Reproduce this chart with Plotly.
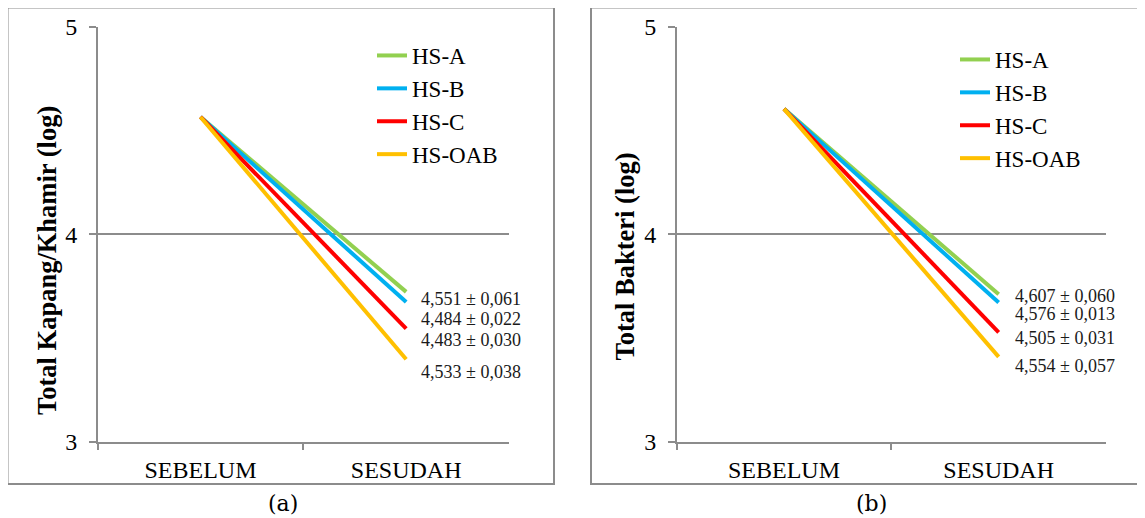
import plotly.graph_objects as go

# ---------------- data ----------------
categories = ["SEBELUM", "SESUDAH"]
series = ["HS-A", "HS-B", "HS-C", "HS-OAB"]
colors = ["#92D050", "#00B0F0", "#FF0000", "#FFC000"]

kapang_sebelum = [4.565, 4.565, 4.565, 4.565]
kapang_sesudah = [3.722, 3.673, 3.545, 3.397]
kapang_labels = ["4,551 ± 0,061", "4,484 ± 0,022", "4,483 ± 0,030", "4,533 ± 0,038"]

bakteri_sebelum = [4.604, 4.604, 4.604, 4.604]
bakteri_sesudah = [3.711, 3.671, 3.527, 3.409]
bakteri_labels = ["4,607 ± 0,060", "4,576 ± 0,013", "4,505 ± 0,031", "4,554 ± 0,057"]

y_ticks = [3, 4, 5]
y_titles = ["Total Kapang/Khamir (log)", "Total Bakteri (log)"]
captions = ["(a)", "(b)"]

# label positions (y in data units)
kapang_label_y = [3.687, 3.590, 3.488, 3.338]
bakteri_label_y = [3.702, 3.615, 3.500, 3.365]

# page shows the figure offset by the default 8px body margin
OFF = 8
W, H = 1145 - OFF, 518 - OFF
SERIF = "Liberation Serif, Times New Roman, serif"
GRAY = "#8c8c8c"

fig = go.Figure()

for i, name in enumerate(series):
    fig.add_trace(go.Scatter(
        x=categories, y=[kapang_sebelum[i], kapang_sesudah[i]],
        mode="lines", name=name, line=dict(color=colors[i], width=4),
        xaxis="x", yaxis="y", legend="legend", showlegend=True,
    ))
for i, name in enumerate(series):
    fig.add_trace(go.Scatter(
        x=categories, y=[bakteri_sebelum[i], bakteri_sesudah[i]],
        mode="lines", name=name, line=dict(color=colors[i], width=4),
        xaxis="x2", yaxis="y2", legend="legend2", showlegend=True,
    ))

def px_x(p):
    return (p - OFF) / W

def px_y(p):
    return 1 - (p - OFF) / H

ydom = [px_y(441.7), px_y(26.7)]

xaxis_common = dict(
    type="category", range=[-0.5, 1.5], showline=True, linecolor=GRAY, linewidth=1.5,
    ticks="outside", tickson="boundaries", ticklen=7, tickcolor=GRAY, tickwidth=1.5,
    ticklabelstandoff=6,
    showgrid=False, zeroline=False, automargin=False,
    tickfont=dict(family=SERIF, size=24, color="black"),
    fixedrange=True,
)
yaxis_common = dict(
    range=[3, 5], tickvals=y_ticks, showline=True, linecolor=GRAY, linewidth=1.5,
    ticks="outside", ticklen=7, tickcolor=GRAY, tickwidth=1.5, ticklabelstandoff=7,
    showgrid=True, gridcolor=GRAY, gridwidth=1.5, zeroline=False, automargin=False,
    tickfont=dict(family=SERIF, size=24, color="black"),
    domain=ydom, fixedrange=True,
)

legend_font = dict(family=SERIF, size=23, color="black")
title_font = dict(family=SERIF, size=26.5, color="black")

fig.update_layout(
    template="none",
    width=W, height=H,
    margin=dict(l=0, r=0, t=0, b=0, pad=0),
    paper_bgcolor="white", plot_bgcolor="white",
    xaxis=dict(xaxis_common, domain=[px_x(97.7), px_x(509)], anchor="y"),
    yaxis=dict(yaxis_common, anchor="x"),
    xaxis2=dict(xaxis_common, domain=[px_x(676.7), px_x(1106)], anchor="y2"),
    yaxis2=dict(yaxis_common, anchor="x2"),
    legend=dict(x=px_x(372), y=px_y(34), xanchor="left", yanchor="top",
                font=legend_font, bgcolor="rgba(0,0,0,0)", borderwidth=0, tracegroupgap=0),
    legend2=dict(x=px_x(955), y=px_y(38), xanchor="left", yanchor="top",
                 font=legend_font, bgcolor="rgba(0,0,0,0)", borderwidth=0, tracegroupgap=0),
    showlegend=True,
)

# y-axis titles (placed as rotated annotations, offset below the axis middle as in the original)
fig.add_annotation(x=px_x(47), y=px_y(261), xref="paper", yref="paper",
                   text="<b>" + y_titles[0] + "</b>", textangle=-90, showarrow=False,
                   xanchor="center", yanchor="middle", font=title_font)
fig.add_annotation(x=px_x(624.5), y=px_y(257), xref="paper", yref="paper",
                   text="<b>" + y_titles[1] + "</b>", textangle=-90, showarrow=False,
                   xanchor="center", yanchor="middle", font=title_font)

# value annotations next to SESUDAH
for txt, yy in zip(kapang_labels, kapang_label_y):
    fig.add_annotation(x=categories[1], y=yy, xref="x", yref="y", text=txt,
                       showarrow=False, xanchor="left", yanchor="middle", xshift=13,
                       font=dict(family=SERIF, size=18, color="#1a1a1a"))
for txt, yy in zip(bakteri_labels, bakteri_label_y):
    fig.add_annotation(x=categories[1], y=yy, xref="x2", yref="y2", text=txt,
                       showarrow=False, xanchor="left", yanchor="middle", xshift=14,
                       font=dict(family=SERIF, size=18, color="#1a1a1a"))

# captions
cap_font = dict(family="DejaVu Serif", size=22, color="black")
fig.add_annotation(x=px_x(282.5), y=px_y(503), xref="paper", yref="paper", text=captions[0],
                   showarrow=False, xanchor="center", yanchor="middle", font=cap_font)
fig.add_annotation(x=px_x(872), y=px_y(503), xref="paper", yref="paper", text=captions[1],
                   showarrow=False, xanchor="center", yanchor="middle", font=cap_font)

# panel frames
fig.add_shape(type="rect", xref="paper", yref="paper",
              x0=px_x(7.5), x1=px_x(554), y0=px_y(484), y1=px_y(7.5),
              line=dict(color=GRAY, width=2), layer="below")
fig.add_shape(type="rect", xref="paper", yref="paper",
              x0=px_x(591), x1=px_x(1160), y0=px_y(484), y1=px_y(7.5),
              line=dict(color=GRAY, width=2), layer="below")

fig.write_html("out.html")
